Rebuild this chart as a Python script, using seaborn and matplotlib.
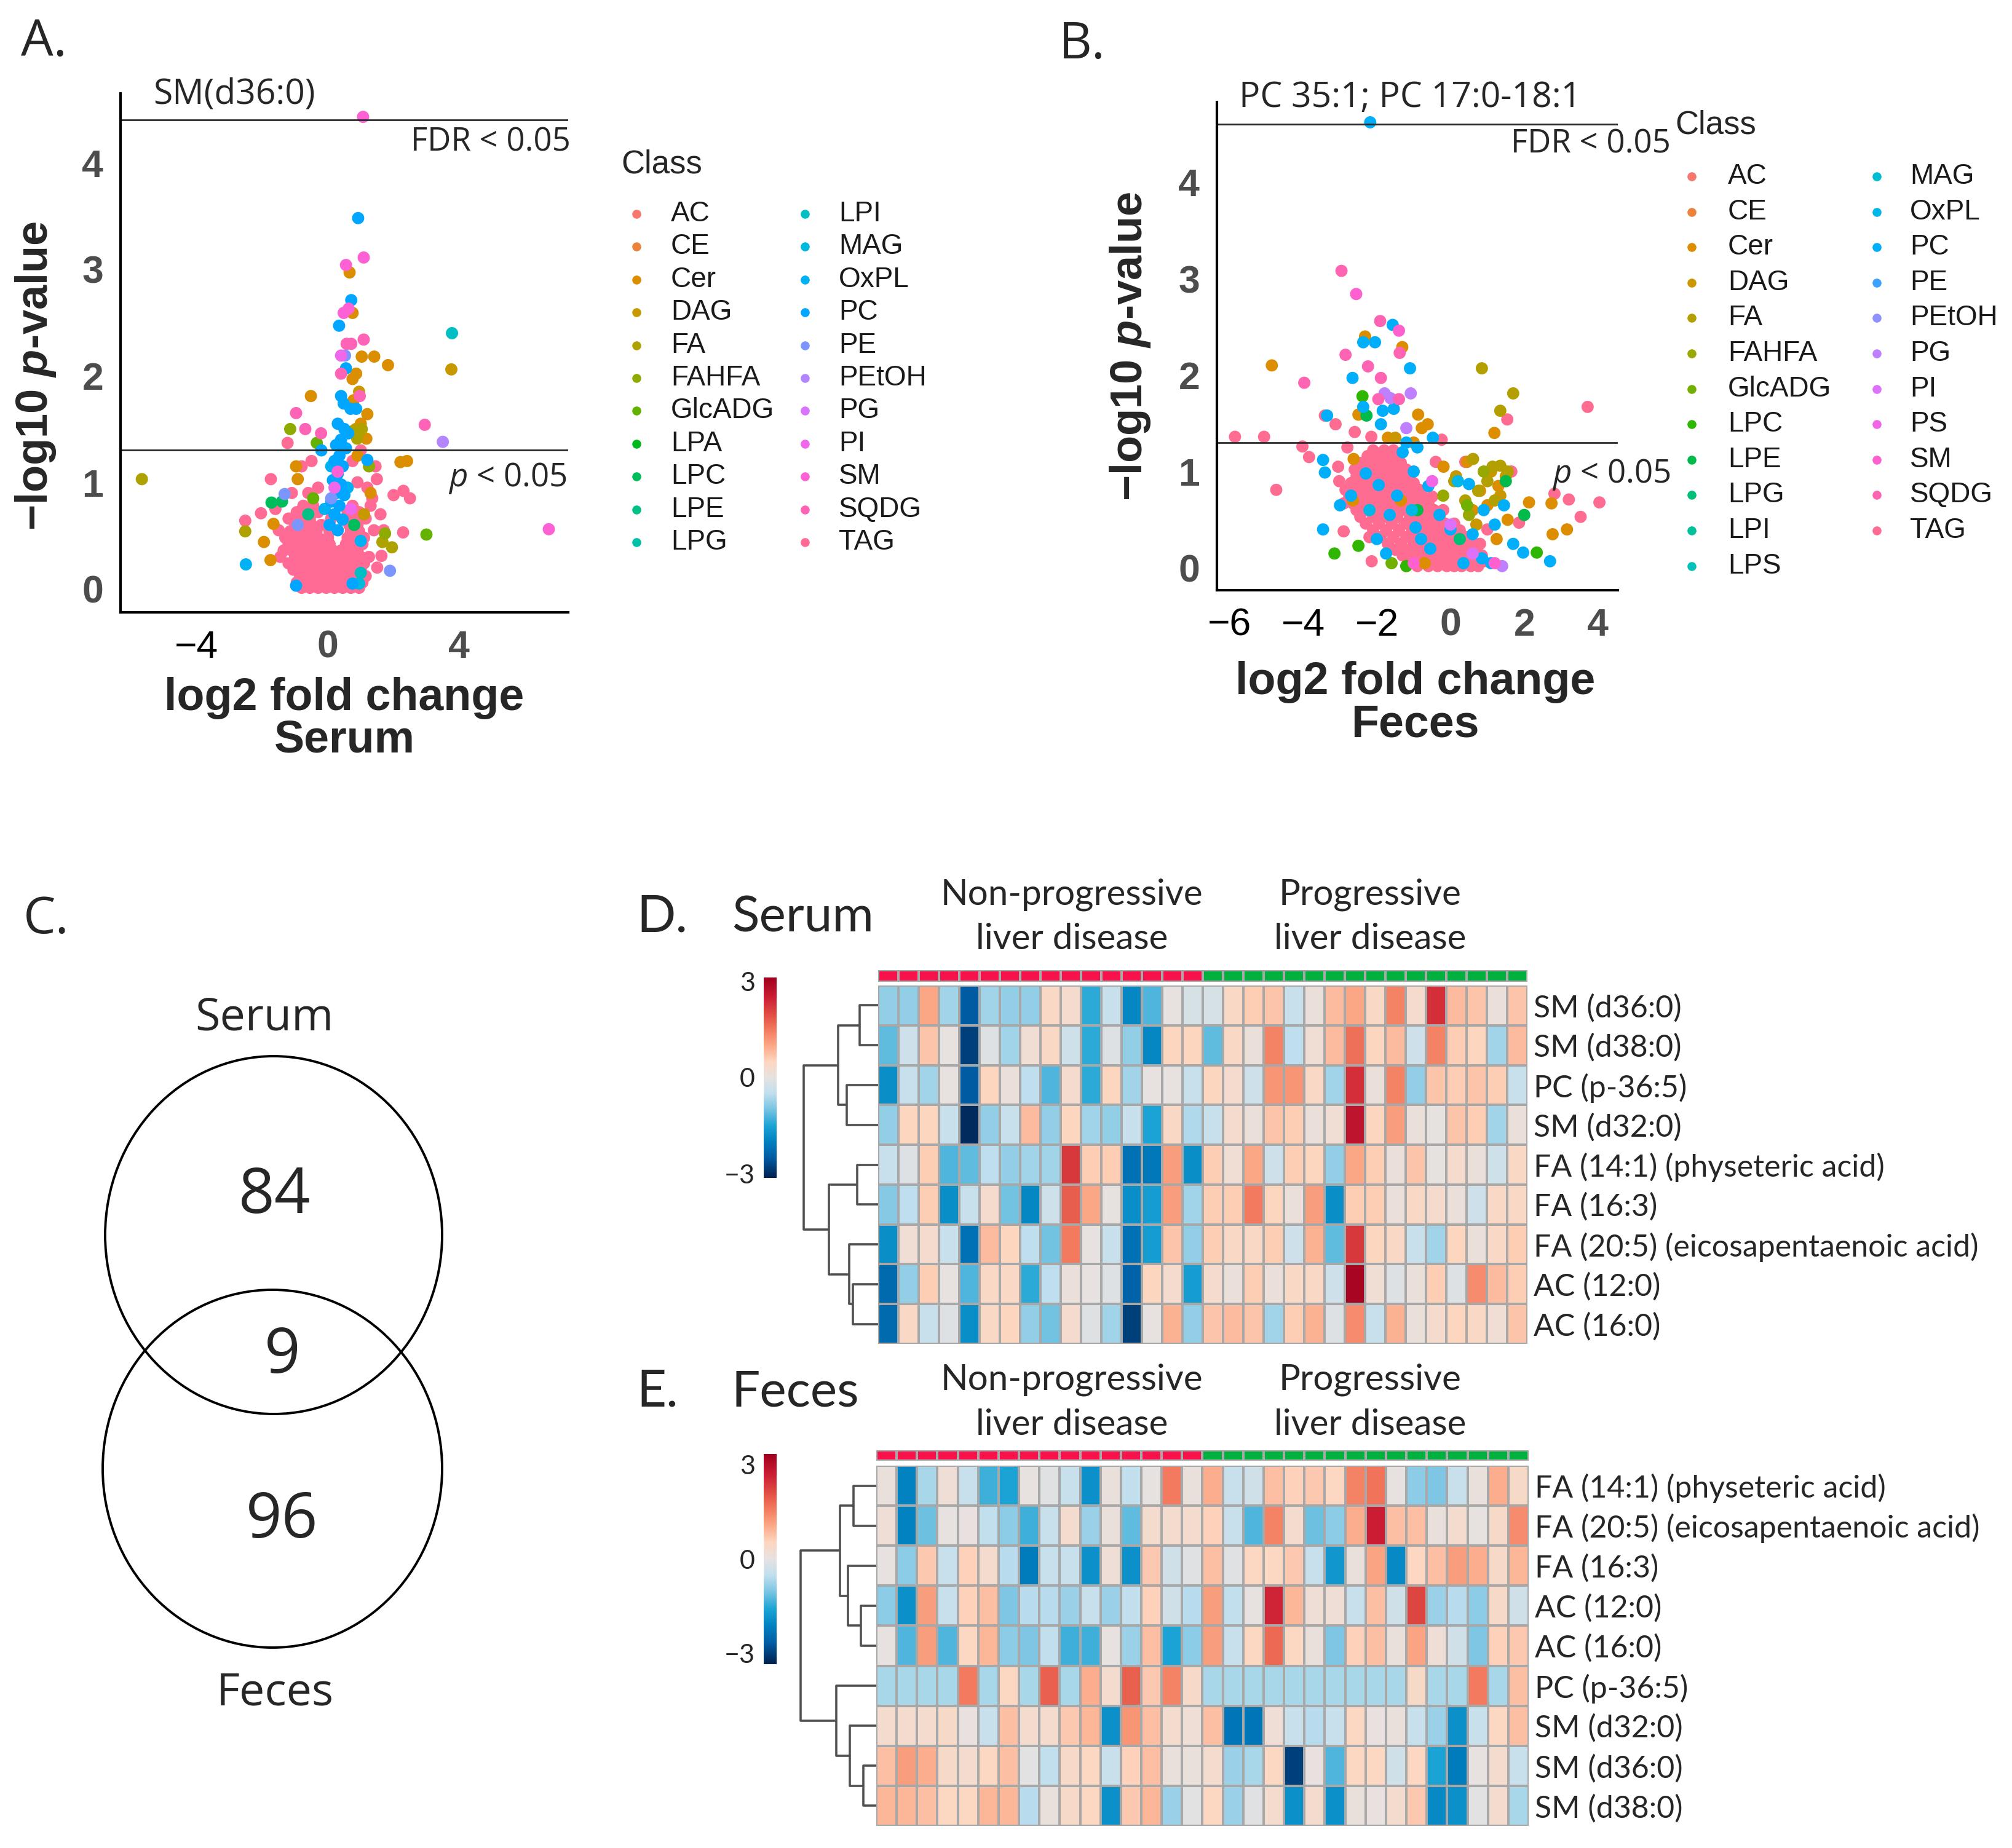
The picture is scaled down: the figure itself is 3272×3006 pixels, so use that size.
import numpy as np
import pandas as pd
import matplotlib
matplotlib.use("Agg")
import matplotlib.pyplot as plt
import seaborn as sns
from matplotlib.colors import LinearSegmentedColormap, ListedColormap, Normalize
from matplotlib.cm import ScalarMappable
from matplotlib.patches import Ellipse

sns.set_style("white")
plt.rcParams["font.family"] = ["Liberation Sans", "DejaVu Sans"]
plt.rcParams["mathtext.fontset"] = "custom"
plt.rcParams["mathtext.it"] = "Liberation Sans:italic:bold"
plt.rcParams["mathtext.sf"] = "Open Sans:italic"
plt.rcParams["mathtext.rm"] = "Liberation Sans"
plt.rcParams["mathtext.bf"] = "Liberation Sans:bold"

# ==========================
# DATA
# ==========================

serum_classes = ["AC", "CE", "Cer", "DAG", "FA", "FAHFA", "GlcADG", "LPA", "LPC", "LPE", "LPG",
                 "LPI", "MAG", "OxPL", "PC", "PE", "PEtOH", "PG", "PI", "SM", "SQDG", "TAG"]
feces_classes = ["AC", "CE", "Cer", "DAG", "FA", "FAHFA", "GlcADG", "LPC", "LPE", "LPG", "LPI", "LPS",
                 "MAG", "OxPL", "PC", "PE", "PEtOH", "PG", "PI", "PS", "SM", "SQDG", "TAG"]

# serum volcano points (log2 fold change, -log10 p)
a_tag = [(-0.8, 0.01), (-0.55, 0.01), (-0.3, 0.01), (-0.05, 0.01), (0.2, 0.01), (0.45, 0.01), (0.7, 0.01), (0.95, 0.01),
         (-0.95, 0.06), (-0.7, 0.06), (-0.45, 0.06), (-0.2, 0.06), (0.05, 0.06), (0.3, 0.06), (0.55, 0.06), (0.8, 0.06), (1.05, 0.06),
         (-0.85, 0.12), (-0.6, 0.12), (-0.35, 0.12), (-0.1, 0.12), (0.15, 0.12), (0.4, 0.12), (0.65, 0.12), (0.9, 0.12), (1.15, 0.12),
         (-1.05, 0.18), (-0.8, 0.18), (-0.5, 0.18), (-0.25, 0.18), (0.0, 0.18), (0.25, 0.18), (0.5, 0.18), (0.75, 0.18), (1.0, 0.18),
         (-1.2, 0.24), (-0.9, 0.24), (-0.65, 0.24), (-0.4, 0.24), (-0.15, 0.24), (0.1, 0.24), (0.35, 0.24), (0.6, 0.24), (0.85, 0.24), (1.1, 0.24),
         (-1.0, 0.30), (-0.75, 0.30), (-0.5, 0.30), (-0.25, 0.30), (0.0, 0.30), (0.25, 0.30), (0.5, 0.30), (0.75, 0.30), (1.0, 0.30), (1.25, 0.30),
         (-1.35, 0.36), (-1.1, 0.36), (-0.85, 0.36), (-0.6, 0.36), (-0.35, 0.36), (-0.1, 0.36), (0.15, 0.36), (0.4, 0.36), (0.65, 0.36), (0.9, 0.36),
         (-1.2, 0.42), (-0.95, 0.42), (-0.7, 0.42), (-0.45, 0.42), (-0.2, 0.42), (0.05, 0.42), (0.55, 0.42), (0.8, 0.42), (1.05, 0.42),
         (-1.3, 0.48), (-1.05, 0.48), (-0.8, 0.48), (-0.55, 0.48), (-0.3, 0.48), (0.0, 0.48), (0.6, 0.48), (0.85, 0.48), (1.1, 0.48),
         (-1.15, 0.54), (-0.9, 0.54), (-0.6, 0.54), (-0.35, 0.54), (0.05, 0.54), (0.7, 0.54), (0.95, 0.54),
         (-1.0, 0.60), (-0.75, 0.60), (-0.5, 0.60), (-0.2, 0.60), (0.65, 0.60), (0.9, 0.60),
         (-1.2, 0.66), (-0.85, 0.66), (-0.55, 0.66), (0.1, 0.66), (0.8, 0.66), (1.15, 0.66),
         (-0.95, 0.72), (-0.65, 0.72), (-0.3, 0.72), (0.6, 0.72), (0.95, 0.72),
         (-0.75, 0.78), (-0.45, 0.78), (0.75, 0.78), (1.3, 0.78),
         (-1.5, 0.55), (-1.45, 0.3), (-1.6, 0.75), (-2.04, 0.71), (-2.52, 0.64), (-1.74, 1.03), (-1.23, 1.37),
         (-0.8, 1.15), (-0.5, 1.2), (-0.3, 0.95), (-0.6, 0.9), (-1.1, 0.9), (1.49, 1.03), (1.35, 0.85), (1.6, 0.7),
         (2.0, 0.88), (2.3, 0.92), (2.5, 0.85), (2.29, 0.53), (1.63, 0.31), (1.4, 0.55), (0.75, 1.2), (1.0, 1.3),
         (0.9, 1.0), (1.2, 0.95), (1.45, 1.15), (1.7, 0.55), (1.5, 0.2)]
a_sqdg = [(-0.97, 1.65), (-0.69, 1.50), (-0.21, 1.46), (2.95, 1.54), (0.97, 1.81), (1.09, 2.34), (0.57, 2.30),
          (0.71, 2.30), (0.40, 2.02)]
a_pc = [(0.92, 3.48), (0.71, 2.71), (0.34, 2.47), (0.55, 2.07), (0.40, 1.81), (0.48, 1.74), (0.69, 1.69), (0.86, 1.69),
        (0.3, 1.55), (0.5, 1.5), (0.62, 1.46), (0.4, 1.4), (0.25, 1.35), (0.55, 1.32), (0.35, 1.25), (0.2, 1.2),
        (0.45, 1.15), (0.3, 1.08), (0.15, 1.02), (0.4, 0.98), (0.25, 0.9), (0.5, 0.88), (0.1, 0.82), (0.35, 0.78),
        (0.2, 0.7), (0.45, 0.65), (0.3, 0.55), (1.20, 1.21), (-0.2, 1.3), (-0.97, 0.03), (0.75, 0.05), (0.05, 0.6)]
a_oxpl = [(-2.50, 0.23), (0.1, 1.15), (0.6, 0.95), (-0.1, 0.75), (1.0, 0.45)]
a_sm = [(1.07, 4.43), (1.09, 3.11), (0.55, 3.04), (0.63, 2.63), (6.73, 0.56), (0.48, 2.59), (0.3, 1.1)]
a_pi = [(0.40, 2.19), (0.2, 0.95), (0.7, 0.75)]
a_pe = [(0.52, 2.19), (-1.32, 0.89), (-0.92, 0.6), (1.89, 0.17), (0.1, 0.85)]
a_petoh = [(3.50, 1.38)]
a_cer = [(0.66, 2.97), (0.75, 2.59), (1.03, 2.18), (1.41, 2.18), (1.83, 2.10), (0.86, 2.02), (0.75, 1.97),
         (-0.52, 1.81), (0.78, 1.77), (1.20, 1.64), (1.17, 1.41), (2.21, 1.19), (2.41, 1.20), (-0.97, 1.15),
         (-0.92, 1.03), (-1.66, 0.61), (-1.95, 0.44), (-1.75, 0.27), (1.0, 1.55), (0.9, 1.25), (1.3, 0.9)]
a_dag = [(3.76, 2.06), (0.95, 1.85), (1.1, 0.7), (0.85, 1.5)]
a_fa = [(0.75, 1.48), (1.03, 1.50), (0.89, 1.41), (-2.52, 0.54), (-5.67, 1.03), (1.66, 0.44), (1.95, 0.39)]
a_fahfa = [(-1.15, 1.50), (1.74, 0.52), (1.25, 1.15)]
a_glcadg = [(-0.34, 1.37), (3.0, 0.51), (-0.45, 0.85)]
a_lpc = [(-1.72, 0.81), (-1.4, 0.82), (0.8, 0.6)]
a_lpe = [(-0.6, 0.7)]
a_lpi = [(3.78, 2.40), (1.0, 0.15)]
a_mag = [(0.95, 0.05)]

# feces volcano points
b_tag = [(-0.9, 0.02), (-0.6, 0.02), (-0.35, 0.02), (-0.1, 0.02), (0.1, 0.02), (0.3, 0.02), (0.55, 0.02), (0.75, 0.02), (-1.2, 0.02),
         (-1.1, 0.07), (-0.75, 0.07), (-0.5, 0.07), (-0.25, 0.07), (0.0, 0.07), (0.2, 0.07), (0.45, 0.07), (0.7, 0.07), (0.9, 0.07),
         (-1.3, 0.13), (-0.95, 0.13), (-0.65, 0.13), (-0.4, 0.13), (-0.15, 0.13), (0.1, 0.13), (0.35, 0.13), (0.6, 0.13), (0.85, 0.13),
         (-1.5, 0.19), (-1.15, 0.19), (-0.8, 0.19), (-0.55, 0.19), (-0.3, 0.19), (-0.05, 0.19), (0.2, 0.19), (0.45, 0.19), (0.7, 0.19),
         (-1.7, 0.25), (-1.35, 0.25), (-1.0, 0.25), (-0.7, 0.25), (-0.45, 0.25), (-0.2, 0.25), (0.05, 0.25), (0.3, 0.25), (0.55, 0.25),
         (-2.2, 0.32), (-1.9, 0.32), (-1.55, 0.32), (-1.2, 0.32), (-0.9, 0.32), (-0.6, 0.32), (-0.35, 0.32), (-0.1, 0.32), (0.15, 0.32), (0.4, 0.32),
         (-2.1, 0.39), (-1.75, 0.39), (-1.4, 0.39), (-1.05, 0.39), (-0.75, 0.39), (-0.5, 0.39), (-0.25, 0.39), (0.0, 0.39), (0.25, 0.39),
         (-2.3, 0.46), (-1.95, 0.46), (-1.6, 0.46), (-1.25, 0.46), (-0.95, 0.46), (-0.65, 0.46), (-0.4, 0.46), (-0.15, 0.46), (0.1, 0.46),
         (-2.45, 0.53), (-2.1, 0.53), (-1.8, 0.53), (-1.45, 0.53), (-1.1, 0.53), (-0.8, 0.53), (-0.55, 0.53), (-0.3, 0.53),
         (-2.55, 0.60), (-2.25, 0.60), (-1.9, 0.60), (-1.6, 0.60), (-1.3, 0.60), (-1.0, 0.60), (-0.7, 0.60), (-0.45, 0.60), (-0.2, 0.60),
         (-2.9, 0.67), (-2.65, 0.67), (-2.35, 0.67), (-2.05, 0.67), (-1.75, 0.67), (-1.45, 0.67), (-1.15, 0.67), (-0.85, 0.67), (-0.6, 0.67),
         (-2.75, 0.74), (-2.5, 0.74), (-2.2, 0.74), (-1.9, 0.74), (-1.6, 0.74), (-1.3, 0.74), (-1.0, 0.74), (-0.75, 0.74), (-0.5, 0.74),
         (-2.85, 0.81), (-2.6, 0.81), (-2.3, 0.81), (-2.0, 0.81), (-1.7, 0.81), (-1.4, 0.81), (-1.1, 0.81), (-0.85, 0.81),
         (-2.7, 0.88), (-2.45, 0.88), (-2.15, 0.88), (-1.85, 0.88), (-1.55, 0.88), (-1.25, 0.88), (-1.0, 0.88),
         (-2.55, 0.95), (-2.2, 0.95), (-1.9, 0.95), (-1.6, 0.95), (-1.35, 0.95), (-1.1, 0.95),
         (-2.6, 1.02), (-2.35, 1.02), (-2.05, 1.02), (-1.75, 1.02), (-1.45, 1.02), (-1.2, 1.02),
         (-2.45, 1.09), (-2.2, 1.09), (-1.9, 1.09), (-1.6, 1.09), (-1.35, 1.09),
         (-2.25, 1.16), (-2.0, 1.16), (-1.7, 1.16), (-1.45, 1.16), (-2.1, 1.22), (-1.8, 1.22), (-1.55, 1.22),
         (3.72, 1.67), (1.54, 1.54), (-3.41, 1.58), (-3.12, 1.49), (-5.85, 1.36), (-5.06, 1.36), (-2.6, 1.41),
         (-2.15, 1.36), (-0.24, 1.33), (-4.02, 1.26), (-2.8, 1.25), (-3.84, 1.15), (1.65, 1.0), (-3.05, 1.05),
         (-3.02, 0.9), (-4.73, 0.81), (2.82, 0.77), (4.04, 0.68), (3.21, 0.71), (3.53, 0.53), (-2.90, 0.38),
         (-2.14, 0.07), (1.86, 0.47), (0.4, 1.1), (0.5, 0.3), (0.8, 0.25), (1.0, 0.4), (-0.4, 1.1)]
b_sqdg = [(-2.96, 3.08), (-1.91, 2.56), (-1.38, 2.23), (-2.85, 2.21), (-2.24, 2.09), (-1.89, 1.97),
          (-3.97, 1.92), (-1.96, 1.75), (-1.4, 1.75)]
b_sm = [(-2.56, 2.84), (-1.40, 2.46), (1.2, 0.05), (-1.0, 0.05)]
b_pc = [(-2.18, 4.62), (-1.57, 2.52), (-2.37, 2.34), (-2.05, 2.34), (-1.10, 2.07), (-2.66, 1.97), (-2.37, 1.67),
        (-1.84, 1.63), (-1.54, 1.65), (-3.35, 1.58), (-1.89, 1.49), (-0.48, 1.35), (-3.46, 1.12), (-3.41, 0.99),
        (0.50, 0.87), (-3.46, 0.40), (1.97, 0.16), (2.70, 0.07), (-1.3, 1.2), (-1.0, 1.0), (-0.6, 0.85),
        (-1.45, 0.75), (-0.3, 0.55), (0.0, 0.4), (0.6, 0.35), (0.9, 0.6), (1.2, 0.45), (1.45, 0.65), (1.7, 0.25),
        (0.85, 0.1), (-0.8, 0.3), (-2.0, 0.3), (-1.75, 0.15), (0.35, 0.05), (1.1, 0.05), (-2.7, 0.75),
        (-3.0, 0.65), (-1.2, 1.3), (-0.9, 1.25), (-1.65, 0.55), (-0.95, 0.42), (-2.3, 0.98), (-0.55, 0.2),
        (-1.95, 0.86)]
b_oxpl = [(-1.05, 0.6), (0.2, 0.9), (-2.2, 0.6)]
b_cer = [(-4.85, 2.10), (-2.32, 2.40), (-1.31, 2.29), (-2.5, 1.59), (-0.88, 1.59), (-0.62, 1.49), (-0.78, 1.45),
         (1.19, 1.40), (-2.63, 1.13), (-0.19, 1.05), (2.13, 0.68), (2.74, 0.67), (3.16, 0.40), (2.77, 0.35),
         (0.8, 0.8), (1.0, 0.65), (1.3, 0.85), (1.55, 0.5), (1.25, 0.3), (0.6, 0.6), (-1.7, 1.35), (-1.0, 1.3),
         (-2.65, 0.7), (0.45, 1.1), (-1.35, 0.7), (-0.7, 0.05)]
b_dag = [(0.15, 0.95), (1.5, 0.95), (0.7, 0.45), (1.35, 0.75), (-1.5, 1.35), (1.1, 1.0)]
b_fa = [(0.85, 2.07), (1.70, 1.81), (1.35, 1.63), (0.61, 1.13), (1.14, 1.05), (1.35, 1.06), (0.1, 0.9),
        (0.75, 0.8), (1.0, 0.9), (1.2, 0.7), (0.4, 0.7), (1.55, 1.0)]
b_fahfa = [(0.9, 1.0), (0.5, 0.55), (-0.2, 0.75)]
b_glcadg = [(0.45, 0.65), (-1.6, 0.05)]
b_lpc = [(-2.39, 1.78), (-2.50, 0.23), (-3.15, 0.15), (2.34, 0.16), (-1.2, 0.02)]
b_lpe = [(-2.28, 1.58), (2.0, 0.55), (1.5, 0.9), (-0.9, 0.6)]
b_lpg = [(0.25, 0.3)]
b_pg = [(-1.79, 1.81), (-1.63, 1.76), (-1.08, 1.81), (1.40, 0.02), (-1.2, 1.45)]
b_pi = [(0.0, 0.45), (0.6, 0.15)]
b_ps = [(-0.5, 0.9)]

serum_fdr = 4.40
feces_fdr = 4.60
p_line = 1.301

# heatmaps (z-scores)
serum_rows = ["SM (d36:0)", "SM (d38:0)", "PC (p-36:5)", "SM (d32:0)", "FA (14:1) (physeteric acid)",
              "FA (16:3)", "FA (20:5) (eicosapentaenoic acid)", "AC (12:0)", "AC (16:0)"]
feces_rows = ["FA (14:1) (physeteric acid)", "FA (20:5) (eicosapentaenoic acid)", "FA (16:3)", "AC (12:0)",
              "AC (16:0)", "PC (p-36:5)", "SM (d32:0)", "SM (d36:0)", "SM (d38:0)"]
sample_group = ["Non-progressive"] * 16 + ["Progressive"] * 16

serum_z = [
    [-0.8, -0.8, 1.0, -0.7, -2.5, -0.7, -0.8, -0.8, 0.4, 0.3, -1.4, -0.4, -1.9, -1.2, 0.0, -0.2,
     -0.2, 0.4, 0.6, 0.7, -0.4, 0.1, 0.8, 1.0, 0.4, 1.4, 0.3, 2.3, 0.8, 0.7, 0.1, 0.7],
    [-1.1, -0.3, 0.7, 0.0, -2.8, -0.1, -0.7, 0.2, 0.4, -0.3, -1.4, -0.1, -0.8, -1.9, 0.5, 0.5,
     -1.1, 0.4, 0.1, 1.4, -0.5, 0.2, 0.8, 1.6, 0.5, 0.8, -0.3, 1.4, 0.6, 0.5, -0.7, 0.8],
    [-1.8, -0.4, -0.7, 0.0, -2.5, 0.5, 0.1, -0.5, -1.2, 0.3, -1.4, 0.5, -0.7, 0.0, 0.0, -0.4,
     0.5, 0.3, -0.3, 1.2, 1.2, 0.4, -0.7, 2.3, 0.1, 1.4, -0.8, 0.7, 0.6, 0.7, 0.6, -0.4],
    [-0.8, 0.5, 0.5, -0.4, -3.0, -0.8, -0.4, 0.8, -0.8, 0.5, -0.7, -0.8, -0.4, -1.5, 0.4, -0.6,
     -0.4, 0.3, 0.1, 0.7, 0.6, 0.1, 0.2, 2.7, 0.5, 1.1, 0.1, 0.0, 0.7, 0.6, -0.7, 0.1],
    [-0.4, -0.1, 0.6, -1.2, -1.1, -0.5, -0.8, -0.7, -0.7, 2.2, 0.6, 0.6, -2.2, -2.1, 1.1, -1.8,
     0.6, 0.2, 1.0, -0.3, 0.6, 0.5, -0.8, 1.0, 0.6, 0.1, 0.7, 0.0, 0.3, 0.1, -0.3, 0.4],
    [-0.9, -0.5, 0.6, -1.8, -0.4, 0.3, -1.0, -1.9, -0.3, 1.8, 1.0, 0.0, -1.8, -1.6, 1.1, -0.7,
     0.6, 0.6, 1.5, 0.5, 0.1, 1.1, -1.8, 0.6, 0.6, 0.1, 0.4, 0.3, 0.1, -0.3, 0.4, 0.4],
    [-1.8, 0.2, 0.3, -0.4, -2.2, 0.8, 0.5, -0.5, -1.0, 1.5, 0.0, -0.4, -2.2, -1.6, 0.7, -0.8,
     0.6, 0.4, 0.4, 0.6, -0.3, 0.9, -1.1, 2.2, 0.5, 0.4, -0.4, -0.7, 0.5, 0.1, 0.4, 0.6],
    [-2.3, -0.8, 0.6, 0.0, -1.2, 0.4, 0.4, -1.4, -0.5, 0.1, 0.0, -0.1, -2.4, 0.5, 0.3, -1.6,
     0.3, 0.1, 0.6, 0.1, 0.4, 0.4, -0.3, 3.0, 0.2, -0.1, 0.1, 0.6, -0.1, 1.3, 0.8, 0.6],
    [-2.3, 0.4, -0.4, -0.1, -1.8, 0.4, 0.5, -0.8, -1.0, 0.3, -0.1, -0.7, -2.8, 0.0, 0.9, -0.8,
     0.7, 0.8, 0.7, -0.7, 0.6, 0.9, -0.1, 1.3, -0.4, 0.9, 0.1, 0.3, 0.5, 0.4, 0.2, 0.7],
]
feces_z = [
    [0.1, -2.1, -0.7, 0.2, -0.4, -1.4, -1.6, 0.0, -0.1, -0.4, -1.9, 0.1, -0.5, 0.0, 1.6, 0.1,
     1.0, -0.4, -0.3, 0.8, 0.6, 0.7, 0.5, 1.5, 1.7, 0.0, -0.9, -1.0, -0.4, 0.1, 1.0, 0.4],
    [0.2, -2.1, -1.1, 0.0, 0.05, -0.5, -0.9, -1.4, -0.4, 0.3, -0.8, 0.1, -1.2, 0.3, 0.3, 0.3,
     0.6, -0.4, -1.3, 1.5, 0.3, -1.1, -0.9, 1.0, 2.7, 0.8, 0.8, 0.1, 0.3, 0.0, 0.4, 1.4],
    [0.0, -0.9, 0.7, -0.4, 0.6, 0.3, -0.6, -2.2, -0.4, -0.4, -1.9, 0.2, -1.9, 0.7, -0.3, -0.1,
     0.8, -0.1, 0.5, 0.5, 0.7, -0.4, -1.8, 0.1, 1.1, -2.0, 0.5, 0.8, 1.2, 1.0, 0.4, 0.9],
    [-0.9, -1.9, 1.2, -0.4, 0.6, 0.8, -1.0, -0.6, -0.6, -0.8, -0.4, -0.8, -0.5, 0.6, -0.3, -0.6,
     1.2, -0.5, 0.0, 2.6, 0.9, 0.2, 0.2, -0.4, 0.8, -0.3, 2.2, -0.8, -0.6, -0.9, 0.4, -0.3],
    [0.0, -1.3, 1.2, -1.3, 0.5, 0.9, -0.9, -1.0, -0.5, -1.4, -1.4, 0.0, -0.8, 0.8, -1.6, -0.9,
     1.2, -0.4, 0.5, 1.8, 0.5, 0.1, -1.0, 0.6, 0.8, 0.1, 1.1, 0.2, -0.3, -1.0, 0.6, 0.7],
    [-0.7, -0.7, -0.7, -0.7, 1.6, -0.7, 0.5, -0.7, 1.9, -0.7, 1.0, 0.3, 1.9, 0.7, 1.5, 0.4,
     -0.7, -0.7, -0.7, -0.7, -0.7, -0.7, -0.7, -0.7, -0.7, -0.7, 0.4, -0.7, -0.7, 1.6, -0.7, 0.8],
    [0.3, 0.3, 0.3, 0.4, 0.05, -0.4, 0.8, 0.3, 0.3, 0.7, 0.9, -1.9, 1.3, 0.8, 0.3, 0.2,
     0.8, -2.3, -2.3, 0.2, -0.4, -0.6, -0.4, 0.5, 0.05, 0.1, -0.4, -0.8, -1.9, -0.4, 0.5, 0.8],
    [0.8, 1.2, 1.0, 0.4, 0.3, 0.5, 0.8, -0.05, -0.5, 0.4, 0.5, -0.4, 0.6, 0.8, 0.1, 0.1,
     0.3, -0.8, -0.7, 0.5, -3.0, 0.05, -1.3, 0.5, 0.5, -0.3, 0.5, -1.6, -2.2, 0.0, 0.3, -0.4],
    [0.9, 0.9, 0.8, 0.5, 0.5, 0.9, 0.9, -0.6, 0.1, 0.4, 0.5, -1.9, 0.7, 0.9, -0.8, -0.05,
     0.5, -0.8, -0.1, 0.3, -1.9, 0.3, -1.9, 0.1, 0.05, 0.3, 0.7, -2.0, -1.9, -0.05, 0.3, -0.7],
]

# row dendrograms: (node a, node b, merge height), leaves numbered top to bottom
serum_merges = [(0, 1, 0.25), (2, 3, 0.42), (9, 10, 0.54), (4, 5, 0.28), (7, 8, 0.34),
                (6, 13, 0.39), (12, 14, 0.66), (11, 15, 1.0)]
feces_merges = [(0, 1, 0.30), (3, 4, 0.20), (2, 10, 0.37), (9, 11, 0.48), (7, 8, 0.17),
                (6, 13, 0.35), (5, 14, 0.53), (12, 15, 1.0)]

venn_serum_only = 84
venn_both = 9
venn_feces_only = 96

# ==========================
# HELPERS
# ==========================

W, H = 3273, 3006
fig = plt.figure(figsize=(W / 100, H / 100), dpi=100)


def px_axes(l, t, r, b, **kw):
    return fig.add_axes([l / W, 1 - b / H, (r - l) / W, (b - t) / H], **kw)


def gg_hue(n):
    # ggplot2 default hue palette (hcl, l=65, c=100, start at 15 degrees)
    hs = np.linspace(15, 375, n + 1)[:-1]
    L, C = 65.0, 100.0
    un, vn = 0.19783, 0.46832
    m = np.array([[3.2406, -1.5372, -0.4986], [-0.9689, 1.8758, 0.0415], [0.0557, -0.2040, 1.0570]])
    out = []
    for h in hs:
        u = C * np.cos(np.radians(h))
        v = C * np.sin(np.radians(h))
        Y = ((L + 16) / 116) ** 3
        up = u / (13 * L) + un
        vp = v / (13 * L) + vn
        X = Y * 9 * up / (4 * vp)
        Z = Y * (12 - 3 * up - 20 * vp) / (4 * vp)
        rgb = m @ np.array([X, Y, Z])
        rgb = np.where(rgb <= 0.0031308, 12.92 * rgb, 1.055 * np.abs(rgb) ** (1 / 2.4) - 0.055)
        out.append(tuple(np.clip(rgb, 0, 1)))
    return out


def to_frame(groups):
    rows = []
    for cls, pts in groups:
        for x, y in pts:
            rows.append((cls, x, y))
    return pd.DataFrame(rows, columns=["Class", "lfc", "logp"])


overlay = fig.add_axes([0, 0, 1, 1], zorder=10)
overlay.set_xlim(0, W)
overlay.set_ylim(H, 0)
overlay.axis("off")
overlay.patch.set_alpha(0)

GREY = "#4D4D4D"


def volcano(ax, df, classes, xlim, ylim, xticks, fdr, top_label, top_xy, fdr_xy, p_xy, xlabel,
            ylab_xy, xlab_xy):
    pal = dict(zip(classes, gg_hue(len(classes))))
    sns.scatterplot(data=df, x="lfc", y="logp", hue="Class", palette=pal, s=205,
                    linewidth=0, alpha=1, legend=False, ax=ax)
    ax.axhline(fdr, color="#2b2b2b", lw=2)
    ax.axhline(p_line, color="#2b2b2b", lw=2)
    ax.set_xlim(*xlim)
    ax.set_ylim(*ylim)
    sns.despine(ax=ax)
    for s in ["left", "bottom"]:
        ax.spines[s].set_linewidth(3)
        ax.spines[s].set_color("black")
    ax.set_yticks([0, 1, 2, 3, 4])
    ax.set_yticklabels(["0", "1", "2", "3", "4"], fontsize=45, fontweight="bold", color=GREY)
    ax.set_xticks(xticks)
    ax.set_xticklabels(["\u2212%d" % -v if v < 0 else "%d" % v for v in xticks], fontsize=45)
    for v, lab in zip(xticks, ax.get_xticklabels()):
        if v < 0:
            lab.set_color("black")
        else:
            lab.set_color(GREY)
            lab.set_fontweight("bold")
    ax.tick_params(length=10, width=2.2, color="#333333", pad=10)
    ax.set_ylabel("\u2212log10 $\\mathit{p}$-value", fontsize=52, fontweight="bold")
    ax.yaxis.set_label_coords(*ylab_xy)
    ax.set_xlabel(xlabel, fontsize=53, fontweight="bold", linespacing=1.0)
    ax.xaxis.set_label_coords(*xlab_xy)
    ax.text(top_xy[0], top_xy[1], top_label, fontsize=41, family="Open Sans", ha="center",
            va="center", clip_on=False)
    ax.text(fdr_xy[0], fdr_xy[1], "FDR < 0.05", fontsize=38, family="Open Sans", ha="right",
            va="center", clip_on=False)
    ax.text(p_xy[0], p_xy[1], "$\\mathsf{p}$ < 0.05", fontsize=38, family="Open Sans", ha="right",
            va="center", clip_on=False)


def class_legend(classes, title_xy, dot_x, lab_x, y0, dy, nrows):
    pal = gg_hue(len(classes))
    overlay.text(title_xy[0], title_xy[1], "Class", fontsize=38, ha="left", va="center")
    for i, cls in enumerate(classes):
        col, row = divmod(i, nrows)
        y = y0 + row * dy
        overlay.scatter([dot_x[col]], [y], s=110, color=pal[i], linewidths=0)
        overlay.text(lab_x[col], y, cls, fontsize=33, ha="left", va="center", color="#1a1a1a")


heat_cmap = LinearSegmentedColormap.from_list("z", [
    (0.0, "#00224F"), (0.5 - 2.5 / 6.24, "#005CA3"), (0.5 - 2.0 / 6.24, "#0080C0"),
    (0.5 - 1.5 / 6.24, "#1AA3D4"), (0.5 - 1.0 / 6.24, "#75C3E2"), (0.5 - 0.5 / 6.24, "#BFDFEE"),
    (0.5, "#E6E2E1"), (0.5 + 0.5 / 6.24, "#FDD6C0"), (0.5 + 1.0 / 6.24, "#FBA886"),
    (0.5 + 1.5 / 6.24, "#F37A5E"), (0.5 + 2.0 / 6.24, "#E04B42"), (0.5 + 2.5 / 6.24, "#CC1E34"),
    (1.0, "#A0001E")])


def dendro(ax, merges, n):
    pos = {i: i + 0.5 for i in range(n)}
    hgt = {i: 0.0 for i in range(n)}
    for k, (a, b, h) in enumerate(merges):
        ax.plot([hgt[a], h, h, hgt[b]], [pos[a], pos[a], pos[b], pos[b]], color="#505050",
                lw=2.6, solid_capstyle="butt", clip_on=False)
        pos[n + k] = (pos[a] + pos[b]) / 2
        hgt[n + k] = h
    ax.set_xlim(1.0, 0.0)
    ax.set_ylim(n, 0)
    ax.axis("off")


def heat_panel(z, rows, merges, grid, bar, cb_box, vlim, dend_l, heads_y, letter, title, title_y):
    l, t, r, b = grid
    ax = px_axes(l, t, r, b)
    zdf = pd.DataFrame(z, index=rows)
    sns.heatmap(zdf, cmap=heat_cmap, vmin=-vlim, vmax=vlim, cbar=False, linewidths=1.6,
                linecolor="#A8A8A8", xticklabels=False, yticklabels=rows, ax=ax)
    ax.yaxis.tick_right()
    ax.tick_params(axis="y", length=0, pad=7, labelright=True, labelleft=False, rotation=0)
    for lab in ax.get_yticklabels():
        lab.set_fontsize(36)
        lab.set_family("Lato")

    axb = px_axes(l, bar[0], r, bar[1])
    grp = np.array([[0 if g == "Non-progressive" else 1 for g in sample_group]])
    sns.heatmap(grp, cmap=ListedColormap(["#F7124C", "#00B140"]), vmin=0, vmax=1, cbar=False,
                linewidths=1.6, linecolor="#A8A8A8", xticklabels=False, yticklabels=False, ax=axb)

    axd = px_axes(dend_l, t, l, b)
    dendro(axd, merges, len(rows))

    cax = px_axes(*cb_box)
    cb = fig.colorbar(ScalarMappable(norm=Normalize(-vlim, vlim), cmap=heat_cmap), cax=cax,
                      ticks=[-3, 0, 3])
    cb.outline.set_visible(False)
    cax.yaxis.set_ticks_position("left")
    cax.tick_params(length=0, pad=10)
    cb.set_ticklabels(["\u22123", "0", "3"])
    for lab in cax.get_yticklabels():
        lab.set_fontsize(31)
        lab.set_family("Lato")

    overlay.text(1743, heads_y[0], "Non-progressive", fontsize=42, family="Lato", ha="center", va="center")
    overlay.text(1743, heads_y[1], "liver disease", fontsize=42, family="Lato", ha="center", va="center")
    overlay.text(2228, heads_y[0], "Progressive", fontsize=42, family="Lato", ha="center", va="center")
    overlay.text(2228, heads_y[1], "liver disease", fontsize=42, family="Lato", ha="center", va="center")
    overlay.text(1035, title_y, letter, fontsize=60, family="Lato", ha="left", va="center")
    overlay.text(1190, title_y, title, fontsize=59, family="Lato", ha="left", va="center")


# ==========================
# PANEL A : SERUM VOLCANO
# ==========================

serum_df = to_frame([("TAG", a_tag), ("Cer", a_cer), ("DAG", a_dag), ("FA", a_fa), ("FAHFA", a_fahfa),
                     ("GlcADG", a_glcadg), ("LPC", a_lpc), ("LPE", a_lpe), ("LPI", a_lpi), ("MAG", a_mag),
                     ("OxPL", a_oxpl), ("PC", a_pc), ("PE", a_pe), ("PEtOH", a_petoh), ("PI", a_pi),
                     ("SQDG", a_sqdg), ("SM", a_sm)])
axA = px_axes(196, 152, 924, 996)
volcano(axA, serum_df, serum_classes, (-6.32, 7.32), (-0.22, 4.65), [-4, 0, 4], serum_fdr,
        "SM(d36:0)", (-2.85, 4.63), (7.40, 4.19), (7.28, 1.04), "log2 fold change\nSerum",
        (-0.14, 0.456), (0.5, -0.125))
class_legend(serum_classes, (1010, 268), (1035, 1309), (1091, 1364), 348, 53.4, 11)
overlay.text(34, 70, "A.", fontsize=60, family="Open Sans", ha="left", va="center")

# ==========================
# PANEL B : FECES VOLCANO
# ==========================

feces_df = to_frame([("TAG", b_tag), ("Cer", b_cer), ("DAG", b_dag), ("FA", b_fa), ("FAHFA", b_fahfa),
                     ("GlcADG", b_glcadg), ("LPC", b_lpc), ("LPE", b_lpe), ("LPG", b_lpg), ("OxPL", b_oxpl),
                     ("PC", b_pc), ("PG", b_pg), ("PI", b_pi), ("PS", b_ps), ("SQDG", b_sqdg), ("SM", b_sm)])
axB = px_axes(1979, 166, 2631, 960)
volcano(axB, feces_df, feces_classes, (-6.34, 4.54), (-0.23, 4.83), [-6, -4, -2, 0, 2, 4], feces_fdr,
        "PC 35:1; PC 17:0-18:1", (-1.09, 4.87), (5.97, 4.39), (5.97, 0.97), "log2 fold change\nFeces",
        (-0.161, 0.50), (0.495, -0.145))
class_legend(feces_classes, (2724, 204), (2751, 3052), (2810, 3106), 287, 57.6, 12)
overlay.text(1722, 74, "B.", fontsize=60, family="Open Sans", ha="left", va="center")

# ==========================
# PANEL C : VENN
# ==========================

overlay.add_patch(Ellipse((445, 2009), 548, 582, fill=False, lw=2.8, ec="black"))
overlay.add_patch(Ellipse((443, 2389), 552, 582, fill=False, lw=2.8, ec="black"))
overlay.text(38, 1497, "C.", fontsize=60, family="Open Sans", ha="left", va="center")
overlay.text(430, 1657, "Serum", fontsize=53, family="Open Sans", ha="center", va="center")
overlay.text(447, 2755, "Feces", fontsize=53, family="Open Sans", ha="center", va="center")
overlay.text(447, 1947, str(venn_serum_only), fontsize=74, family="Open Sans", ha="center", va="center")
overlay.text(459, 2206, str(venn_both), fontsize=74, family="Open Sans", ha="center", va="center")
overlay.text(459, 2474, str(venn_feces_only), fontsize=74, family="Open Sans", ha="center", va="center")

# ==========================
# PANELS D / E : HEATMAPS
# ==========================

heat_panel(serum_z, serum_rows, serum_merges, (1428, 1603, 2484, 2186), (1578, 1597),
           (1242, 1590, 1263, 1916), 3.12, 1307, (1455, 1528), "D.", "Serum", 1492)
heat_panel(feces_z, feces_rows, feces_merges, (1425, 2384, 2486, 2970), (2359, 2376),
           (1242, 2365, 1263, 2707), 3.35, 1302, (2244, 2317), "E.", "Feces", 2264)

fig.savefig("out.png", dpi=100, facecolor="white")
